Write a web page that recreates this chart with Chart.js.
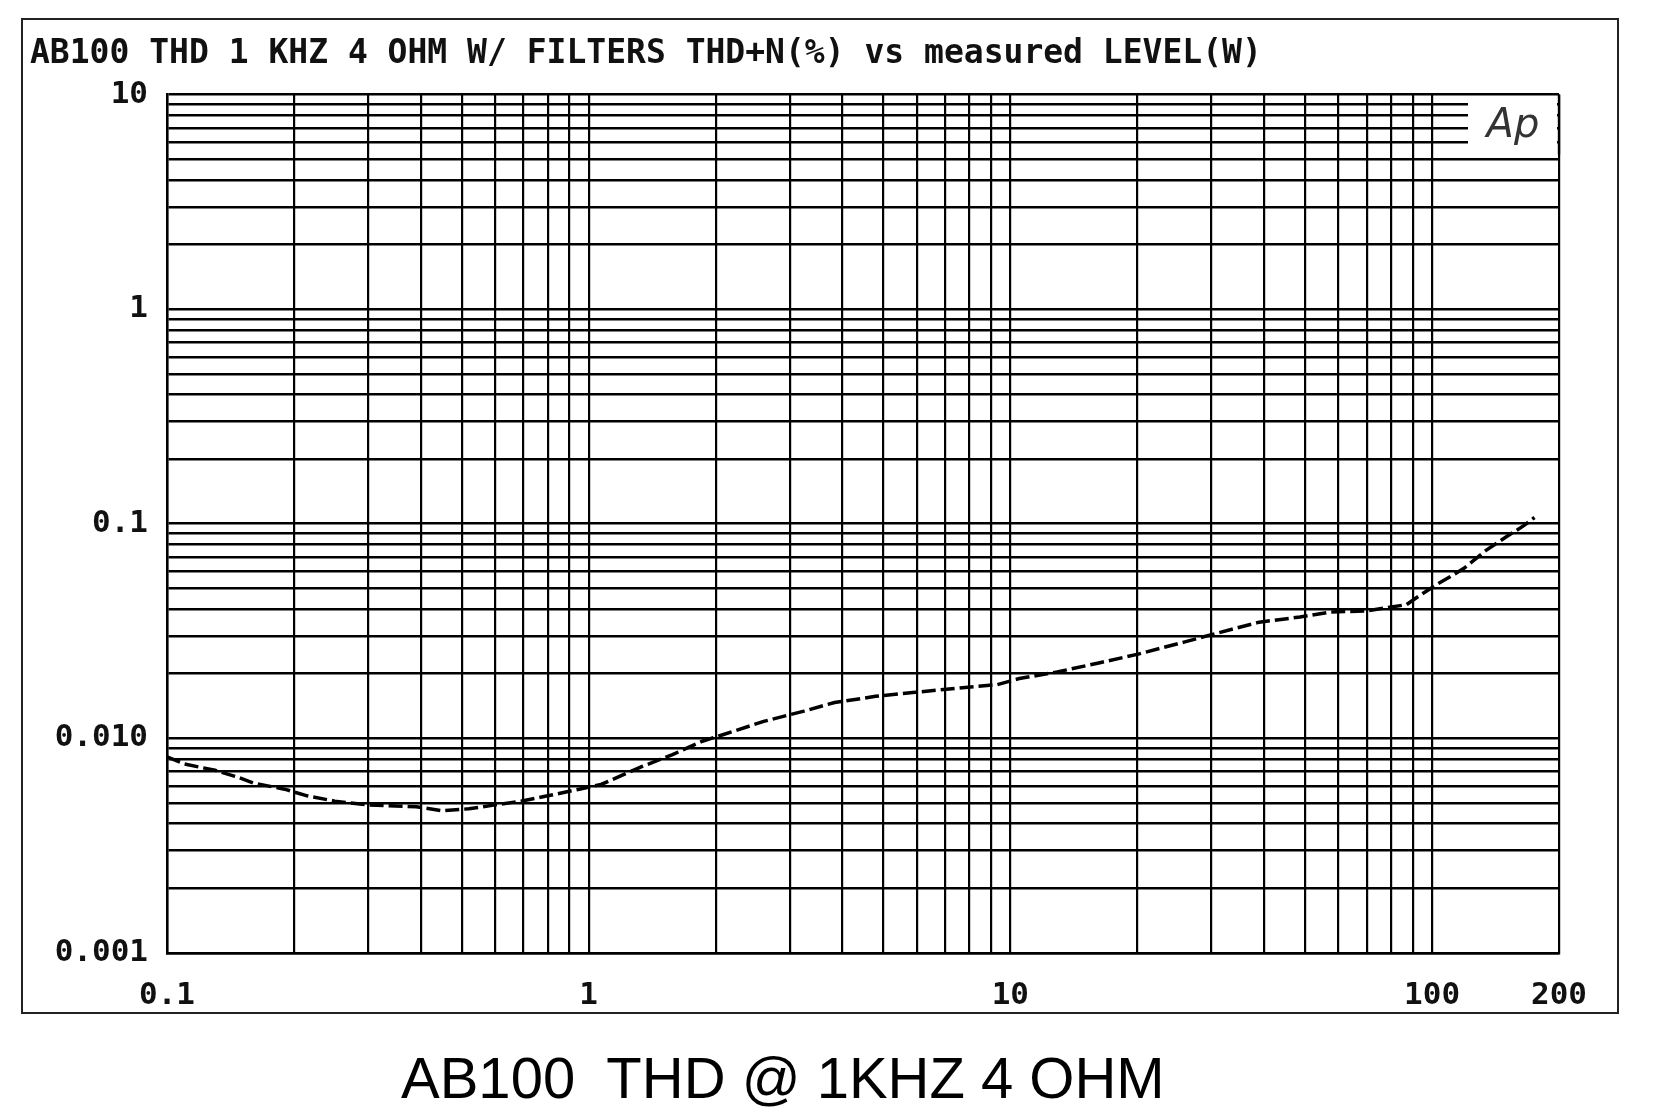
<!DOCTYPE html>
<html>
<head>
<meta charset="utf-8">
<script src="https://cdn.jsdelivr.net/npm/chart.js@4.4.1/dist/chart.umd.min.js"></script>
<style>
  html, body { margin: 0; padding: 0; background: #fff; }
  body { width: 1656px; height: 1117px; position: relative; overflow: hidden; }
  #frame { position: absolute; left: 21px; top: 18px; width: 1594px; height: 992px; border: 2px solid #222; }
  #frame canvas { display: block; }
  #caption { position: absolute; left: 401px; top: 1049px; font: 58px "Liberation Sans", Arial, sans-serif; line-height: 58px; white-space: pre; color: #000; }
</style>
</head>
<body>
<div id="frame"><canvas id="thd" width="1594" height="992"></canvas></div>
<div id="caption">AB100  THD @ 1KHZ 4 OHM</div>
<script>
// measured level (W) and THD+N (%)
const levelW = [0.1, 0.11, 0.13, 0.147, 0.16, 0.19, 0.215, 0.25, 0.3, 0.39,
  0.45, 0.52, 0.6, 0.69, 0.8, 0.95, 1.07, 1.34, 1.58, 1.86,
  2.08, 2.6, 3.24, 3.83, 4.79, 5.95, 7.4, 9.3, 10.5, 12.9,
  16.1, 20.1, 25.8, 30.3, 38.9, 48.6, 57.6, 70, 87, 93,
  103, 111, 119, 134, 150, 165, 175];
const thdPct = [0.0082, 0.0076, 0.0071, 0.0066, 0.0062, 0.0058, 0.0054, 0.0051, 0.0049, 0.0048,
  0.0046, 0.0047, 0.0049, 0.0051, 0.0054, 0.0058, 0.0061, 0.0074, 0.0084, 0.0097,
  0.0104, 0.0120, 0.0134, 0.0147, 0.0157, 0.0164, 0.0171, 0.0178, 0.0190, 0.0204,
  0.0224, 0.0247, 0.0281, 0.0306, 0.0348, 0.0368, 0.0388, 0.0393, 0.042, 0.046,
  0.0524, 0.057, 0.062, 0.075, 0.087, 0.098, 0.107];

const xLabelValues = [0.1, 1, 10, 100, 200];
const xLabels = ["0.1", "1", "10", "100", "200"];
const yLabelValues = [0.001, 0.01, 0.1, 1, 10];
const yLabels = ["0.001", "0.010", "0.1", "1", "10"];

const tickFont = { family: '"DejaVu Sans Mono", monospace', size: 31, weight: "bold" };

// 1..9 per decade, for the log grid
function logGrid(min, max) {
  const out = [];
  for (let d = Math.floor(Math.log10(min)); d <= Math.ceil(Math.log10(max)); d++) {
    for (let m = 1; m <= 9; m++) {
      const v = +(m * Math.pow(10, d)).toPrecision(3);
      if (v >= min * 0.999 && v <= max * 1.001) out.push(v);
    }
  }
  if (out[out.length - 1] < max) out.push(max);
  return out;
}

function pickLabel(values, labels, value) {
  const i = values.findIndex(v => Math.abs(v - value) / v < 1e-6);
  return i >= 0 ? labels[i] : "";
}

// white "Ap" badge in the top right corner of the grid
const apBadge = {
  id: "apBadge",
  beforeDatasetsDraw(chart) {
    const { ctx, chartArea: a } = chart;
    ctx.save();
    ctx.fillStyle = "#fff";
    ctx.fillRect(a.right - 91, a.top + 2, 89, 56);
    ctx.strokeStyle = "#000";
    ctx.lineWidth = 2.4;
    ctx.beginPath();
    ctx.moveTo(a.right, a.top);
    ctx.lineTo(a.right, a.top + 60);
    ctx.stroke();
    ctx.fillStyle = "#333";
    ctx.font = 'italic 40px "DejaVu Sans", sans-serif';
    ctx.textAlign = "center";
    ctx.textBaseline = "middle";
    ctx.fillText("Ap", a.right - 46, a.top + 32);
    ctx.restore();
  }
};

new Chart(document.getElementById("thd"), {
  type: "line",
  data: {
    datasets: [{
      label: "THD+N(%)",
      data: levelW.map((x, i) => ({ x: x, y: thdPct[i] })),
      borderColor: "#000",
      borderWidth: 3.5,
      borderDash: [14, 5],
      pointRadius: 0,
      tension: 0,
      fill: false
    }]
  },
  options: {
    responsive: false,
    animation: false,
    layout: { padding: { left: 7, right: 58, top: 0, bottom: 0 } },
    plugins: {
      legend: { display: false },
      tooltip: { enabled: false },
      title: {
        display: true,
        text: "AB100 THD 1 KHZ 4 OHM W/ FILTERS THD+N(%) vs measured LEVEL(W)",
        align: "start",
        color: "#111",
        font: { family: '"DejaVu Sans Mono", monospace', size: 33, weight: "bold" },
        padding: { top: 15, bottom: 20 }
      }
    },
    scales: {
      x: {
        type: "logarithmic",
        min: 0.1,
        max: 200,
        afterBuildTicks: s => { s.ticks = logGrid(0.1, 200).map(v => ({ value: v })); },
        afterFit: s => { s.height = 59; },
        grid: { color: "#000", lineWidth: 2.2, drawTicks: false },
        border: { color: "#000", width: 2.5 },
        ticks: {
          autoSkip: false,
          maxRotation: 0,
          padding: 24,
          color: "#111",
          font: tickFont,
          callback: v => pickLabel(xLabelValues, xLabels, v)
        }
      },
      y: {
        type: "logarithmic",
        min: 0.001,
        max: 10,
        afterBuildTicks: s => { s.ticks = logGrid(0.001, 10).map(v => ({ value: v })); },
        afterFit: s => { s.width = 137; },
        grid: { color: "#000", lineWidth: 2.6, drawTicks: false },
        border: { color: "#000", width: 2.5 },
        ticks: {
          autoSkip: false,
          padding: 19,
          color: "#111",
          font: tickFont,
          callback: v => pickLabel(yLabelValues, yLabels, v)
        }
      }
    }
  },
  plugins: [apBadge]
});
</script>
</body>
</html>
